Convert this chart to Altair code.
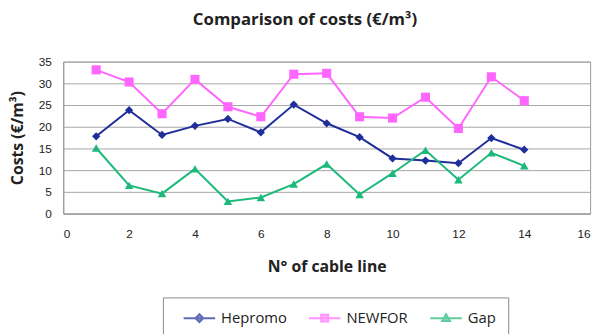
import altair as alt
import pandas as pd

cable_line = list(range(1, 15))
hepromo = [17.8, 23.8, 18.1, 20.2, 21.8, 18.7, 25.1, 20.8, 17.6, 12.7, 12.2, 11.6, 17.4, 14.7]
newfor = [33.1, 30.3, 23.0, 30.9, 24.6, 22.3, 32.1, 32.3, 22.3, 22.0, 26.8, 19.6, 31.5, 26.0]
gap = [15.1, 6.5, 4.6, 10.3, 2.8, 3.7, 6.8, 11.4, 4.4, 9.3, 14.6, 7.8, 14.0, 11.0]

series_names = ["Hepromo", "NEWFOR", "Gap"]
series_colors = ["#1F2E9A", "#FF66FF", "#1DB97A"]
series_shapes = ["diamond", "square", "triangle-up"]
series_sizes = [70, 85, 75]

rows = []
for name, vals in zip(series_names, [hepromo, newfor, gap]):
    for x, v in zip(cable_line, vals):
        rows.append({"line": x, "cost": v, "series": name})
df = pd.DataFrame(rows)

# legend symbols: a short line with the series marker in the middle
legend_paths = [
    "M-2,0H2M0,-0.5L0.5,0L0,0.5L-0.5,0Z",
    "M-2,0H2M-0.44,-0.44H0.44V0.44H-0.44Z",
    "M-2,0H2M0,-0.5L0.5,0.35H-0.5Z",
]

xs = alt.X("line:Q", scale=alt.Scale(domain=[0, 16], nice=False),
           axis=alt.Axis(values=list(range(0, 17, 2)), title="N° of cable line",
                         grid=False, ticks=False, labelPadding=15, titlePadding=20,
                         domainColor="#999999"))
ys = alt.Y("cost:Q", scale=alt.Scale(domain=[0, 35], nice=False),
           axis=alt.Axis(values=list(range(0, 36, 5)), title="Costs (€/m³)",
                         ticks=False, labelPadding=12, titlePadding=13,
                         gridColor="#A6A6A6", gridWidth=1, domainColor="#999999"))

layers = []
for name, col, shp, sz in zip(series_names, series_colors, series_shapes, series_sizes):
    base = alt.Chart(df).transform_filter(alt.datum.series == name)
    layers.append(base.mark_line(strokeWidth=2, color=col).encode(x=xs, y=ys))
    layers.append(base.mark_point(filled=True, shape=shp, size=sz, opacity=1, color=col)
                  .encode(x=xs, y=ys))

def make_legend():
    return alt.Legend(title=None, orient="none", direction="horizontal",
                      legendX=101, legendY=239, padding=12,
                      strokeColor="#888888", columnPadding=13,
                      labelFontSize=15, labelFont="Open Sans",
                      labelColor="#222222", labelOffset=13, symbolOffset=16,
                      symbolSize=256, symbolStrokeWidth=2)

legend_layer = alt.Chart(pd.DataFrame({"series": series_names})).mark_point(
    filled=True, clip=True, strokeWidth=2).encode(
    x=alt.value(-500), y=alt.value(-500),
    fill=alt.Fill("series:N", scale=alt.Scale(domain=series_names, range=series_colors),
                  legend=make_legend()),
    stroke=alt.Stroke("series:N", scale=alt.Scale(domain=series_names, range=series_colors),
                      legend=make_legend()),
    shape=alt.Shape("series:N", scale=alt.Scale(domain=series_names, range=legend_paths),
                    legend=make_legend()),
)

chart = alt.layer(*layers, legend_layer).properties(
    width=534, height=154,
    title=alt.TitleParams("Comparison of costs (€/m³)", anchor="middle", dx=-22, offset=27,
                          font="Open Sans", fontSize=17, fontWeight="bold", color="#222222"),
    autosize=alt.AutoSizeParams(type="none"),
    padding={"left": 56, "top": 52, "right": 9, "bottom": 140},
).configure_view(stroke="#999999", strokeWidth=1).configure_axis(
    labelFont="Liberation Sans", labelFontSize=12, labelColor="#222222",
    titleFont="Open Sans", titleFontSize=16, titleFontWeight="bold", titleColor="#222222",
)

chart.save("out.html", embed_options={"renderer": "svg", "actions": False})
